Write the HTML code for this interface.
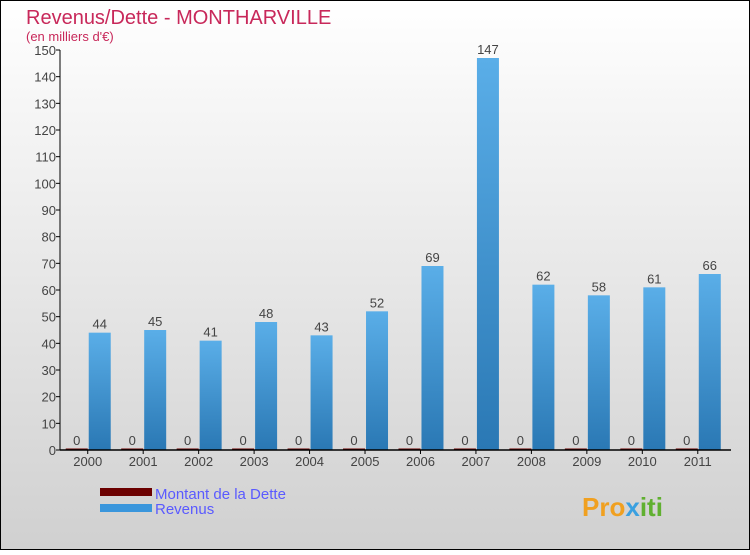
<!DOCTYPE html>
<html><head><meta charset="utf-8"><style>
body{margin:0}
#c{width:750px;height:550px;position:relative;font-family:"Liberation Sans",sans-serif}
</style></head><body>
<div id="c">
<svg id="s" width="750" height="550" xmlns="http://www.w3.org/2000/svg">
<defs>
<linearGradient id="bg" x1="0" y1="0" x2="0" y2="1"><stop offset="0" stop-color="#ffffff"/><stop offset="1" stop-color="#d0d0d0"/></linearGradient>
<linearGradient id="bl" x1="0" y1="0" x2="0" y2="1"><stop offset="0" stop-color="#5aaee8"/><stop offset="1" stop-color="#2a78b4"/></linearGradient>
</defs>
<rect x="0.5" y="0.5" width="749" height="549" fill="url(#bg)" stroke="#000"/>
<text x="26" y="24" font-size="20" fill="#c8285a">Revenus/Dette - MONTHARVILLE</text>
<text x="26" y="41" font-size="13" fill="#c8285a">(en milliers d'€)</text>
<g id="plot"></g>
<rect x="100" y="488" width="52" height="8" fill="#6b0000"/>
<text x="155" y="499" font-size="15" fill="#5a5aff">Montant de la Dette</text>
<rect x="100" y="504" width="52" height="8" fill="#3a96dc"/>
<text x="155" y="514" font-size="15" fill="#5a5aff">Revenus</text>
<text x="582" y="516" font-size="26" font-weight="bold" fill="#f0a020">Pro<tspan fill="#3aa0e0">x</tspan><tspan fill="#60b030">iti</tspan></text>
</svg>
</div>
<script>
const categories=["2000","2001","2002","2003","2004","2005","2006","2007","2008","2009","2010","2011"];
const revenus=[44,45,41,48,43,52,69,147,62,58,61,66];
const dette=[0,0,0,0,0,0,0,0,0,0,0,0];
const yTicks=[0,10,20,30,40,50,60,70,80,90,100,110,120,130,140,150];
const NS="http://www.w3.org/2000/svg";
const g=document.getElementById('plot');
const x0=60,x1=725.5,y0=450,y1=50,ymax=150;
const gw=(x1-x0)/categories.length;
const y=v=>y0-(v/ymax)*(y0-y1);
const cx=i=>x0+(i+0.5)*gw;
function mk(t,a){const e=document.createElementNS(NS,t);for(const k in a)e.setAttribute(k,a[k]);g.appendChild(e);return e;}
yTicks.forEach(v=>{
 const l=mk('line',{x1:x0-4,x2:x0,y1:y(v),y2:y(v),stroke:'#000'});
 
 
 const t=mk('text',{x:x0-4,y:y(v)+5,'font-size':13,fill:'#444','text-anchor':'end'});
 t.textContent=v;
 
 
});
categories.forEach((c,i)=>{
 const c0=cx(i);
 const d=mk('rect',{x:c0-22,y:y(dette[i])-1.5,width:22,height:Math.max(1.5,y0-y(dette[i])),fill:'#6b0000'});
 
 
 const dl=mk('text',{x:c0-11,y:y(dette[i])-5,'font-size':13,fill:'#444','text-anchor':'middle'});
 dl.textContent=dette[i];
 
 
 const r=mk('rect',{x:c0+1,y:y(revenus[i]),width:22,height:y0-y(revenus[i]),fill:'url(#bl)'});
 
 
 const rl=mk('text',{x:c0+12,y:y(revenus[i])-4,'font-size':13,fill:'#444','text-anchor':'middle'});
 rl.textContent=revenus[i];
 
 
 const tk=mk('line',{x1:c0,x2:c0,y1:y0,y2:y0+4,stroke:'#000'});
 
 
 const xl=mk('text',{x:c0,y:y0+16,'font-size':13,fill:'#444','text-anchor':'middle'});
 xl.textContent=c;
 
 
});
const ya=mk('line',{x1:x0,x2:x0,y1:y1,y2:y0,stroke:'#000'});


const xa=mk('line',{x1:x0,x2:731,y1:y0,y2:y0,stroke:'#000','stroke-width':1.5});


</script>
</body></html>
